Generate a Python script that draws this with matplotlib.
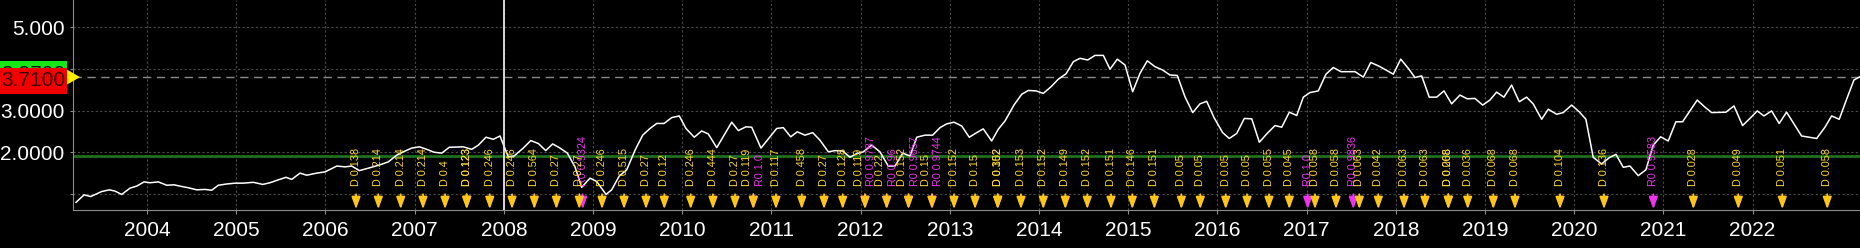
import matplotlib
matplotlib.use("Agg")
import matplotlib.pyplot as plt
import matplotlib.transforms as mtransforms
from matplotlib.patches import Rectangle, Polygon

# price series (decimal year, price)
dates = [2003.204, 2003.294, 2003.369, 2003.492, 2003.577, 2003.641, 2003.716, 2003.809, 2003.885, 2003.966,
         2004.034, 2004.127, 2004.221, 2004.303, 2004.389, 2004.463, 2004.557, 2004.650, 2004.725, 2004.799, 2004.894, 2004.987,
         2005.080, 2005.192, 2005.297, 2005.379, 2005.472, 2005.558, 2005.622, 2005.715, 2005.790, 2005.902, 2005.996,
         2006.127, 2006.220, 2006.295, 2006.380, 2006.500, 2006.612, 2006.705, 2006.799, 2006.873, 2006.967,
         2007.053, 2007.136, 2007.218, 2007.304, 2007.389, 2007.546, 2007.640, 2007.714, 2007.800, 2007.882, 2007.957,
         2008.050, 2008.114, 2008.218, 2008.302, 2008.387, 2008.470, 2008.548, 2008.630, 2008.712, 2008.798, 2008.873, 2008.966,
         2009.041, 2009.146, 2009.209, 2009.294, 2009.378, 2009.471, 2009.557, 2009.639, 2009.714, 2009.796, 2009.882, 2009.967,
         2010.042, 2010.135, 2010.218, 2010.292, 2010.387, 2010.555, 2010.629, 2010.715, 2010.779, 2010.883,
         2011.059, 2011.133, 2011.216, 2011.290, 2011.376, 2011.463, 2011.544, 2011.638, 2011.713, 2011.799, 2011.881, 2011.948,
         2012.030, 2012.124, 2012.217, 2012.310, 2012.386, 2012.472, 2012.554, 2012.629, 2012.722, 2012.808, 2012.890, 2012.965,
         2013.047, 2013.133, 2013.218, 2013.301, 2013.375, 2013.469, 2013.543, 2013.619, 2013.719, 2013.806, 2013.880, 2013.966,
         2014.048, 2014.135, 2014.216, 2014.303, 2014.385, 2014.460, 2014.546, 2014.628, 2014.721, 2014.796, 2014.878, 2014.964,
         2015.050, 2015.132, 2015.214, 2015.300, 2015.386, 2015.468, 2015.550, 2015.636, 2015.723, 2015.805, 2015.880, 2015.962,
         2016.059, 2016.133, 2016.216, 2016.302, 2016.385, 2016.470, 2016.553, 2016.646, 2016.721, 2016.806, 2016.889, 2016.963,
         2017.038, 2017.131, 2017.217, 2017.299, 2017.386, 2017.543, 2017.636, 2017.719, 2017.804, 2017.890, 2017.972,
         2018.055, 2018.140, 2018.215, 2018.290, 2018.375, 2018.458, 2018.540, 2018.626, 2018.719, 2018.801, 2018.887, 2018.974,
         2019.055, 2019.130, 2019.212, 2019.298, 2019.384, 2019.466, 2019.540, 2019.635, 2019.709, 2019.803, 2019.877, 2019.971,
         2020.056, 2020.131, 2020.213, 2020.307, 2020.393, 2020.468, 2020.550, 2020.625, 2020.718, 2020.804, 2020.886, 2020.969,
         2021.054, 2021.140, 2021.215, 2021.379, 2021.466, 2021.541, 2021.701, 2021.791, 2021.888, 2021.970,
         2022.052, 2022.127, 2022.213, 2022.298, 2022.381, 2022.463, 2022.549, 2022.718, 2022.811, 2022.886, 2022.971,
         2023.054, 2023.136, 2023.204]
prices = [0.80, 0.98, 0.94, 1.06, 1.10, 1.07, 0.99, 1.14, 1.19, 1.29,
          1.27, 1.29, 1.21, 1.22, 1.18, 1.15, 1.10, 1.11, 1.09, 1.21, 1.24, 1.26,
          1.26, 1.28, 1.23, 1.27, 1.34, 1.40, 1.35, 1.50, 1.45, 1.50, 1.53,
          1.67, 1.65, 1.67, 1.56, 1.63, 1.70, 1.77, 1.93, 2.01, 2.10,
          2.13, 2.07, 2.00, 1.98, 2.12, 2.13, 2.07, 2.17, 2.36, 2.31, 2.39,
          1.89, 1.91, 2.10, 2.28, 2.21, 2.04, 2.20, 2.10, 1.98, 1.65, 1.16, 1.38,
          1.30, 0.99, 1.10, 1.43, 1.58, 2.05, 2.41, 2.57, 2.69, 2.69, 2.83, 2.87,
          2.57, 2.36, 2.51, 2.44, 2.11, 2.72, 2.52, 2.61, 2.60, 2.10,
          2.57, 2.59, 2.37, 2.49, 2.41, 2.47, 2.29, 2.01, 2.04, 2.03, 1.88, 1.96,
          2.01, 2.17, 2.01, 1.67, 1.67, 1.98, 1.91, 2.36, 2.41, 2.41, 2.59, 2.68,
          2.72, 2.63, 2.36, 2.47, 2.56, 2.27, 2.55, 2.75, 3.13, 3.39, 3.48, 3.47,
          3.41, 3.57, 3.75, 3.88, 4.17, 4.25, 4.21, 4.32, 4.32, 3.99, 4.23, 4.09,
          3.45, 3.89, 4.19, 4.05, 3.97, 3.85, 3.84, 3.33, 2.95, 3.16, 3.22, 2.83,
          2.47, 2.33, 2.45, 2.81, 2.80, 2.24, 2.44, 2.64, 2.60, 2.96, 2.88, 3.32,
          3.43, 3.47, 3.87, 4.03, 3.93, 3.93, 3.80, 4.15, 4.07, 3.97, 3.87,
          4.23, 4.01, 3.79, 3.83, 3.32, 3.32, 3.47, 3.16, 3.37, 3.28, 3.29, 3.13,
          3.25, 3.44, 3.32, 3.61, 3.21, 3.32, 3.16, 2.79, 3.03, 2.91, 2.95, 3.13,
          2.97, 2.79, 1.88, 1.72, 1.87, 1.95, 1.64, 1.67, 1.44, 1.58, 2.17, 2.37,
          2.27, 2.73, 2.73, 3.25, 3.08, 2.95, 2.96, 3.11, 2.64, 2.81,
          2.99, 2.87, 2.99, 2.69, 2.96, 2.68, 2.39, 2.33, 2.60, 2.87, 2.79,
          3.27, 3.73, 3.81]

# corporate events: D = dividend, R = rights
ev_dates = [2006.343, 2006.593, 2006.844, 2007.094, 2007.341, 2007.584, 2007.584, 2007.842, 2008.092,
            2008.342, 2008.589, 2008.846, 2008.884, 2009.101, 2009.348, 2009.594, 2009.799, 2010.095,
            2010.345, 2010.592, 2010.797, 2010.797, 2011.051, 2011.340, 2011.590, 2011.799,
            2012.049, 2012.049, 2012.292, 2012.292, 2012.537, 2012.537, 2012.800, 2012.800,
            2013.047, 2013.283, 2013.537, 2013.537, 2013.798, 2014.048, 2014.295, 2014.541, 2014.807,
            2015.046, 2015.293, 2015.596, 2015.808, 2016.093, 2016.332, 2016.578, 2016.806,
            2017.012, 2017.094, 2017.330, 2017.523, 2017.591, 2017.804, 2018.092, 2018.327,
            2018.589, 2018.589, 2018.806, 2019.093, 2019.336, 2019.841, 2020.334, 2020.887,
            2021.336, 2021.840, 2022.333, 2022.837]
ev_labels = ["D 0.138", "D 0.214", "D 0.214", "D 0.214", "D 0.4", "D 0.123", "D 0.123", "D 0.246", "D 0.246",
             "D 0.564", "D 0.27", "D 0.27", "R0 0.9324", "D 0.246", "D 0.515", "D 0.27", "D 0.12", "D 0.246",
             "D 0.444", "D 0.27", "D 0.119", "R0 1.0", "D 0.117", "D 0.458", "D 0.27", "D 0.128",
             "D 0.119", "R0 0.9787", "D 0.22", "R0 0.96", "D 0.152", "R0 0.9657", "D 0.15", "R0 0.9744",
             "D 0.152", "D 0.15", "D 0.302", "D 0.152", "D 0.153", "D 0.152", "D 0.149", "D 0.152", "D 0.151",
             "D 0.146", "D 0.151", "D 0.05", "D 0.05", "D 0.05", "D 0.05", "D 0.055", "D 0.045",
             "R0 1.0", "D 0.058", "D 0.058", "R0 0.9836", "D 0.063", "D 0.042", "D 0.063", "D 0.063",
             "D 0.208", "D 0.068", "D 0.036", "D 0.068", "D 0.068", "D 0.104", "D 0.136", "R0 0.9583",
             "D 0.028", "D 0.049", "D 0.051", "D 0.058"]

years = list(range(2004, 2023))
ytick_vals = [1, 2, 3, 4, 5]
ytick_text = ["", "2.0000", "3.0000", "", "5.000"]
last_price = 3.71
last_level = 3.80
prev_price = 3.87
support = 1.91
cursor_date = 2008.0

plt.rcParams["font.family"] = ["Liberation Sans", "DejaVu Sans"]

W, H = 1860, 248
fig = plt.figure(figsize=(W / 100, H / 100), dpi=100, facecolor="black")
ax = fig.add_axes([73 / W, 38 / H, 1 - 73 / W, 210 / H])
ax.set_facecolor("black")

ax.set_xlim(2003.17, 2023.204)
ax.set_ylim(0.617, 5.647)

ax.set_xticks(years)
ax.set_xticklabels([str(y) for y in years])
ax.set_yticks(ytick_vals)
ax.set_yticklabels(ytick_text)
ax.tick_params(axis="x", colors="#8c8c8c", labelcolor="white", labelsize=15, length=3, pad=5)
ax.tick_params(axis="y", colors="#8c8c8c", labelcolor="white", labelsize=15, length=2, pad=4)
ax.grid(True, color="#4a4a4a", linestyle=(0, (2, 2)), lw=0.8)
for s in ["top", "right"]:
    ax.spines[s].set_visible(False)
for s in ["left", "bottom"]:
    ax.spines[s].set_color("#8c8c8c")

ax.axhline(support, color="#1f6f1f", lw=2.0, zorder=2)
ax.axhline(last_level, color="#8a8a8a", ls=(0, (6, 4)), lw=1, zorder=2)
ax.axvline(cursor_date, color="#e8e8e8", lw=1.3, zorder=4)
ax.plot(dates, prices, color="white", lw=1.1, zorder=3)

# event markers
trans = mtransforms.blended_transform_factory(ax.transData, ax.transAxes)
yellow = "#ffd633"
arrow_yellow = "#ffc61a"
magenta = "#ee33ee"
order = sorted(range(len(ev_dates)), key=lambda i: ev_labels[i].startswith("D"))
for i in order:
    d = ev_dates[i]
    lab = ev_labels[i]
    is_div = lab.startswith("D")
    col = yellow if is_div else magenta
    paired = any(ev_dates[j] == d and ev_labels[j][0] != lab[0] for j in range(len(ev_dates)))
    dx = 0
    if paired:
        dx = -4.6 if is_div else 4.6
    ax.annotate(lab, xy=(d, 0.113), xycoords=trans, xytext=(dx, 0), textcoords="offset points",
                rotation=90, ha="center", va="bottom", color=col, fontsize=7.8, zorder=5)
    ax.annotate("", xy=(d, 0.004), xycoords=trans, xytext=(d, 0.075), textcoords=trans,
                arrowprops=dict(arrowstyle="-|>,head_length=0.6,head_width=0.22",
                                color=arrow_yellow if is_div else magenta, lw=1.3,
                                shrinkA=0, shrinkB=0, mutation_scale=12), zorder=5)

# price labels on the left
btrans = mtransforms.blended_transform_factory(fig.transFigure, ax.transData)
fig.patches.append(Rectangle((0, prev_price - 0.31), 67 / W, 0.62, transform=btrans,
                             facecolor="#19e619", edgecolor="none", zorder=5))
fig.text(33.5 / W, prev_price, "%.4f" % prev_price, transform=btrans, ha="center", va="center",
         color="#101010", fontsize=15, zorder=6)
fig.patches.append(Rectangle((0, last_price - 0.32), 67 / W, 0.64, transform=btrans,
                             facecolor="#f20000", edgecolor="none", zorder=7))
fig.text(33.5 / W, last_price, "%.4f" % last_price, transform=btrans, ha="center", va="center",
         color="#3a0000", fontsize=15, zorder=8)
fig.patches.append(Polygon([(67 / W, last_level + 0.18), (67 / W, last_level - 0.18), (80 / W, last_level)],
                           closed=True, transform=btrans, facecolor="#ffee00", edgecolor="none", zorder=9))

fig.savefig("out.png", dpi=100, facecolor="black")
